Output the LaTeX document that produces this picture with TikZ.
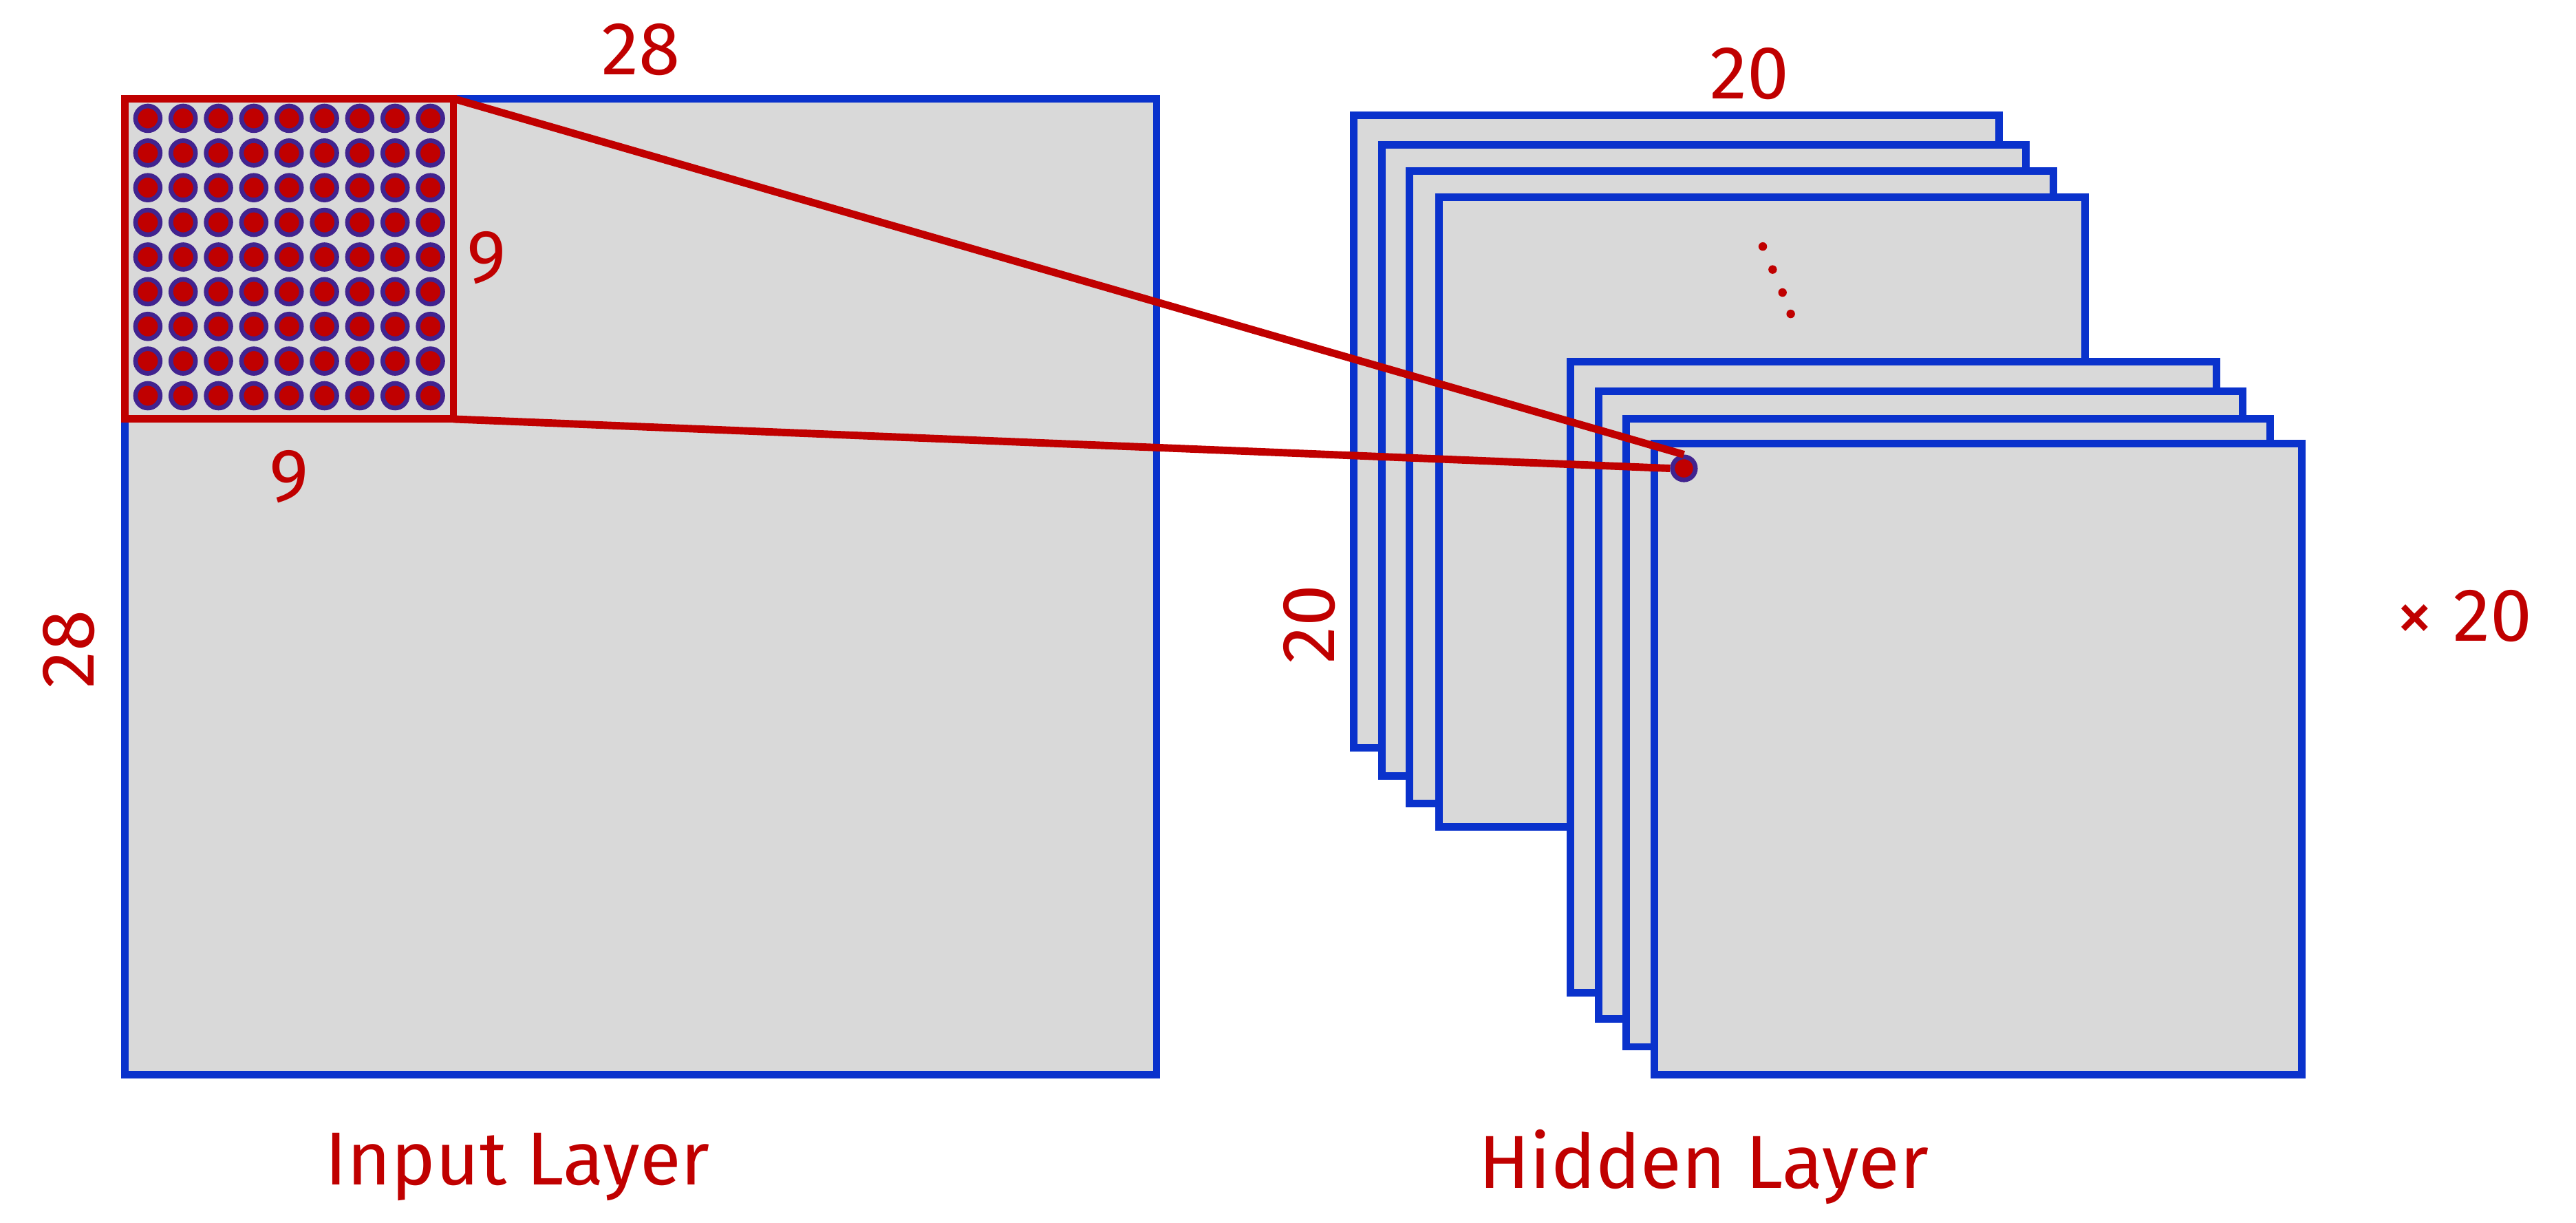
\documentclass[tikz,border=0pt]{standalone}
\usepackage{fontspec}
\setmainfont{Fira Sans}
\definecolor{rd}{HTML}{C00000}
\definecolor{bl}{HTML}{0A32CC}
\definecolor{gr}{HTML}{D9D9D9}
\begin{document}
\begin{tikzpicture}[x=0.01cm,y=-0.01cm,
  sq/.style={draw=bl,fill=gr,line width=1.3pt},
  lbl/.style={text=rd,font=\fontsize{13}{15}\selectfont},
  dot/.style={circle,draw=bl!70!rd,fill=rd,line width=0.8pt,inner sep=0,minimum size=0.15cm}]
\useasboundingbox (0,0) rectangle (1568,744);
\draw[sq] (76,60) rectangle (704,654);
\draw[sq,draw=rd,fill=gr] (76,60) rectangle (276,255);
\foreach \i in {0,...,8}\foreach \j in {0,...,8}
  \node[dot] at ({90+21.5*\i},{72+21.1*\j}) {};
\coordinate (pa) at (276,60);
\coordinate (pb) at (276,255);
\node[lbl] (t28) at (390,30) {28};
\node[lbl] (t9a) at (296,157) {9};
\node[lbl] (t9b) at (176,290) {9};
\node[lbl,rotate=90] (t28b) at (42,395) {28};
\draw[sq] (824,70) rectangle (1217,455);
\draw[sq] (841,88) rectangle (1233,472);
\draw[sq] (858,104) rectangle (1250,489);
\draw[sq] (876,120) rectangle (1269,503);
\foreach \p in {(1073,150),(1079,164),(1085,178),(1090,191)}
  \fill[rd] \p circle (2.6);
\draw[sq] (956,220) rectangle (1349,604);
\draw[sq] (973,238) rectangle (1365,620);
\draw[sq] (990,255) rectangle (1382,637);
\draw[sq] (1007,270) rectangle (1401,654);
\node[dot,minimum size=0.14cm] (hd) at (1025,285) {};
\draw[rd,line width=1.3pt] (pa) -- (hd.north);
\draw[rd,line width=1.3pt] (pb) -- (hd.west);
\node[lbl] (t20) at (1065,45) {20};
\node[lbl,rotate=90] (t20b) at (797,380) {20};
\node[lbl] (x20) at (1500,375) {× 20};
\node[lbl] (il) at (315,710) {Input Layer};
\node[lbl] (hl) at (1037,710) {Hidden Layer};
\end{tikzpicture}
\end{document}
